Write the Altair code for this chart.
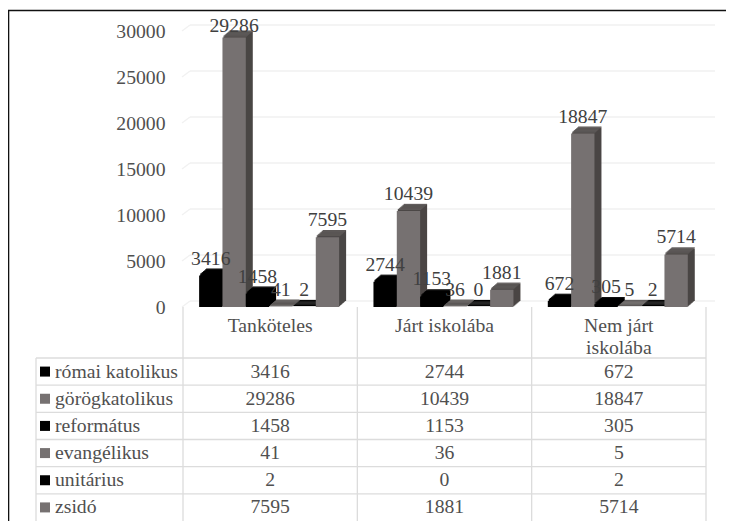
import altair as alt
import pandas as pd

categories = ["Tanköteles", "Járt iskolába", "Nem járt\niskolába"]
series = ["római katolikus", "görögkatolikus", "református", "evangélikus", "unitárius", "zsidó"]
romai = [3416, 2744, 672]
gorog = [29286, 10439, 18847]
reformatus = [1458, 1153, 305]
evangelikus = [41, 36, 5]
unitarius = [2, 0, 2]
zsido = [7595, 1881, 5714]
ticks = [0, 5000, 10000, 15000, 20000, 25000, 30000]

all_values = [romai, gorog, reformatus, evangelikus, unitarius, zsido]
BLACK, GREY = "#000000", "#767171"
front_colors = [BLACK, GREY] * 3
side_colors = ["#000000", "#4a4645"] * 3
top_colors = ["#000000", "#5c5857"] * 3

FONT = "Liberation Serif"
FS = 19.7
TXT = "#505050"
W, H = 523, 513
BASE, TOP30K = 299, 23
DEPTH = 7
BAND_FILL = 0.803  # share of a category taken by its six bars

step = BAND_FILL / 6
first = (1 - BAND_FILL) / 2 - 0.006
rows = []
for i, (s, vals) in enumerate(zip(series, all_values)):
    for c, (cat, v) in enumerate(zip(categories, vals)):
        x0 = c + first + step * i
        rows.append({"cat": cat, "series": s, "value": v, "zero": 0, "strip": v + 120,
                     "label": str(v), "x0": x0, "x1": x0 + step, "xm": x0 + step / 2, "cc": c + 0.5})
df = pd.DataFrame(rows)

xscale = alt.Scale(domain=[0, len(categories)], range=[0, W], nice=False, zero=False)
x0_enc = alt.X("x0:Q", axis=None, scale=xscale)
xm_enc = alt.X("xm:Q", axis=None, scale=xscale)
cc_enc = alt.X("cc:Q", axis=None, scale=xscale)
yscale = alt.Scale(domain=[0, 30000], range=[BASE, TOP30K], nice=False, zero=False)
y_none = alt.Y("value:Q", scale=yscale, axis=None, stack=None)

layers = []

# back wall grid
grid = pd.DataFrame({"tick": ticks})
layers.append(alt.Chart(grid).mark_rule(color="#f1f1f1", strokeWidth=1.3, yOffset=-6, y2Offset=-6).encode(
    y=alt.Y("tick:Q", scale=yscale, axis=alt.Axis(values=ticks, title=None, domain=False, ticks=False, grid=False,
            labelFont=FONT, labelFontSize=FS, labelColor=TXT, labelPadding=18, format="d", labelOverlap=False)),
    x=alt.value(7), x2=alt.value(532)))
layers.append(alt.Chart(grid).mark_rule(color="#f1f1f1", strokeWidth=1.3, y2Offset=-6).encode(
    y=alt.Y("tick:Q", scale=yscale, axis=None), y2="tick:Q",
    x=alt.value(-1), x2=alt.value(7)))

# table lines
line_col = "#dcdcdc"
for xv in [0, W / 3, 2 * W / 3, W]:
    layers.append(alt.Chart().mark_rule(color=line_col, strokeWidth=1.3).encode(
        x=alt.value(xv), y=alt.value(BASE), y2=alt.value(H)))
layers.append(alt.Chart().mark_rule(color=line_col, strokeWidth=1.3).encode(
    x=alt.value(-147), y=alt.value(350), y2=alt.value(H)))
line_df = pd.DataFrame({"i": list(range(6))})
layers.append(alt.Chart(line_df).mark_rule(color=line_col, strokeWidth=1.3).encode(
    y=alt.Y("i:Q", scale=alt.Scale(domain=[0, 6], range=[350, H], nice=False, zero=False), axis=None),
    x=alt.value(-147), x2=alt.value(W)))

# 3D bars, painted series by series
for i, s in enumerate(series):
    base = alt.Chart(df).transform_filter(alt.datum.series == s)
    for k in range(DEPTH, 0, -1):
        dy = -0.86 * k
        layers.append(base.mark_bar(color=side_colors[i], strokeWidth=0, xOffset=k, x2Offset=k, yOffset=dy, y2Offset=dy).encode(
            x=x0_enc, x2="x1:Q", y=y_none, y2="zero:Q"))
        layers.append(base.mark_bar(color=top_colors[i], strokeWidth=0, xOffset=k, x2Offset=k, yOffset=dy, y2Offset=dy).encode(
            x=x0_enc, x2="x1:Q", y=y_none, y2="strip:Q"))
    layers.append(base.mark_bar(color=front_colors[i], strokeWidth=0).encode(
        x=x0_enc, x2="x1:Q", y=y_none, y2="zero:Q"))

# data labels
lab = alt.Chart(df)
layers.append(lab.transform_filter("datum.value < 25000").mark_text(
    font=FONT, fontSize=FS, color="#404040", baseline="middle", dy=-17).encode(
    x=xm_enc, y=y_none, text="label:N"))
layers.append(lab.transform_filter("datum.value >= 25000").mark_text(
    font=FONT, fontSize=FS, color="#404040", baseline="middle", dy=-12).encode(
    x=xm_enc, y=y_none, text="label:N"))

# category header
head = df[df["series"] == series[0]]
layers.append(alt.Chart(head).mark_text(font=FONT, fontSize=FS, color=TXT, baseline="top", lineBreak="\n", lineHeight=22).encode(
    x=cc_enc, y=alt.value(307.5), text="cat:N"))

# table body
row_y = alt.Y("series:N", sort=series, axis=None,
              scale=alt.Scale(domain=series, range=[350, H], paddingInner=0, paddingOuter=0))
layers.append(alt.Chart(df).mark_text(font=FONT, fontSize=FS, color=TXT, baseline="middle").encode(
    x=cc_enc, y=row_y, text="label:N"))
legend = pd.DataFrame({"series": series, "col": front_colors})
layers.append(alt.Chart(legend).mark_text(font=FONT, fontSize=FS, color=TXT, baseline="middle", align="left").encode(
    x=alt.value(-128), y=row_y, text="series:N"))
layers.append(alt.Chart(legend).mark_square(size=100, opacity=1, strokeWidth=0).encode(
    x=alt.value(-138), y=row_y, color=alt.Color("col:N", scale=None)))

# picture frame
layers.append(alt.Chart().mark_rule(color="#111111", strokeWidth=1.6).encode(
    x=alt.value(-175), x2=alt.value(W + 20), y=alt.value(2.5)))
layers.append(alt.Chart().mark_rule(color="#111111", strokeWidth=1.6).encode(
    x=alt.value(-174.5), y=alt.value(2), y2=alt.value(H)))

chart = alt.layer(*layers).resolve_scale(y="independent").properties(
    width=W, height=H,
    padding={"left": 175, "top": 0, "right": 20, "bottom": 0},
    autosize=alt.AutoSizeParams(type="none"),
).configure_view(stroke=None)

chart.save("out.html", embed_options={"renderer": "svg", "actions": False})
